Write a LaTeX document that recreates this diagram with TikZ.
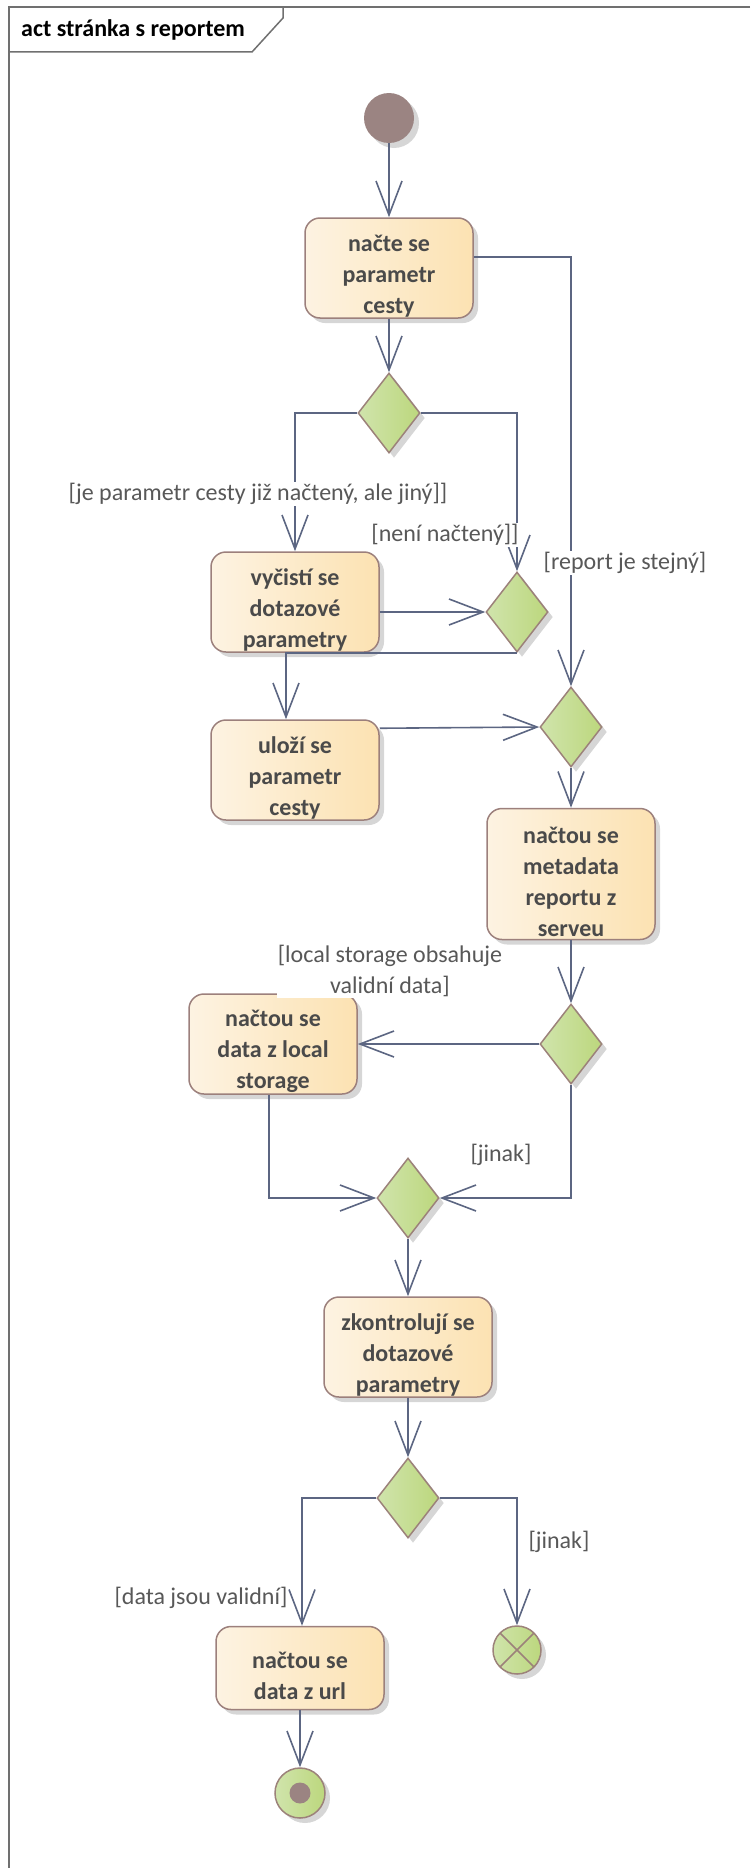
\documentclass[tikz,border=0pt]{standalone}
\usepackage{fontspec}
\setmainfont{Carlito}
\usepackage{tikz}
\usetikzlibrary{arrows.meta,shapes.geometric,shadows}
\definecolor{flowline}{RGB}{92,102,130}
\definecolor{actleft}{RGB}{253,243,226}
\definecolor{actright}{RGB}{252,226,178}
\definecolor{actborder}{RGB}{156,128,124}
\definecolor{acttext}{RGB}{74,74,74}
\definecolor{decleft}{RGB}{208,228,172}
\definecolor{decright}{RGB}{188,215,125}
\definecolor{decborder}{RGB}{156,130,122}
\definecolor{initfill}{RGB}{155,132,130}
\definecolor{guardtext}{RGB}{88,88,88}
\definecolor{framegray}{RGB}{112,112,112}
\definecolor{shadowgray}{RGB}{214,214,214}
\newcommand{\actgap}{\rule{0pt}{32pt}}

\begin{document}
\begin{tikzpicture}[x=1pt,y=-1pt,>={Straight Barb[length=34pt,width=26pt]},
	flow/.style={->,draw=flowline,line width=1.6pt},
	boxshadow/.style={drop shadow={shadow xshift=5pt,shadow yshift=-5pt,fill=shadowgray,opacity=1}},
	act node/.style={rectangle,rounded corners=15pt,draw=actborder,line width=1.5pt,left color=actleft,right color=actright,minimum width=168pt,minimum height=100pt,inner sep=0pt,align=center,text=acttext,font=\fontsize{24}{31}\selectfont\bfseries,boxshadow},
	dec node/.style={diamond,draw=decborder,line width=1.5pt,left color=decleft,right color=decright,minimum width=62pt,minimum height=80pt,inner sep=0pt,boxshadow},
	init node/.style={circle,fill=initfill,minimum size=50pt,inner sep=0pt,boxshadow},
	stop node/.style={circle,draw=decborder,line width=1.5pt,left color=decleft,right color=decright,minimum size=48pt,inner sep=0pt,boxshadow,
		path picture={\draw[decborder,line width=1.5pt] (path picture bounding box.north west) -- (path picture bounding box.south east) (path picture bounding box.north east) -- (path picture bounding box.south west);}},
	end node/.style={circle,draw=decborder,line width=1.5pt,left color=decleft,right color=decright,minimum size=50pt,inner sep=0pt,boxshadow,
		path picture={\fill[initfill] (path picture bounding box.center) circle (10.5pt);}},
	guard/.style={fill=white,inner sep=1pt,align=center,text=guardtext,font=\fontsize{24}{31}\selectfont},
	title/.style={anchor=base west,inner sep=0pt,font=\fontsize{24}{31}\selectfont\bfseries}]
	\useasboundingbox (0,0) rectangle (750,1868);
	\draw[framegray,line width=1.5pt] (750,7) -- (9,7) -- (9,1868);
	\draw[framegray,line width=1.5pt] (9,52) -- (252,52) -- (283,18) -- (283,7);
	\node[title] (heading) at (21,37) {act stránka s reportem};
	\draw
		(389,118) node[init node] (start) {}
		(389,268) node[act node] (load) {\actgap načte se\\parametr\\cesty}
		(389,413) node[dec node] (pathcheck) {}
		(295,602) node[act node] (clear) {\actgap vyčistí se\\dotazové\\parametry}
		(517,612) node[dec node] (pathmerge) {}
		(295,770) node[act node] (store) {\actgap uloží se\\parametr\\cesty}
		(571,727) node[dec node] (reportmerge) {}
		(571,874) node[act node,minimum height=131pt] (meta) {\actgap načtou se\\metadata\\reportu z\\serveu}
		(571,1044) node[dec node] (cachecheck) {}
		(273,1044) node[act node] (cache) {\actgap načtou se\\data z local\\storage}
		(408,1198) node[dec node] (datamerge) {}
		(408,1347) node[act node] (validate) {\actgap zkontrolují se\\dotazové\\parametry}
		(408,1498) node[dec node] (validcheck) {}
		(300,1668) node[act node,minimum height=83pt] (urldata) {\actgap načtou se\\data z url}
		(517,1650) node[stop node] (flowend) {}
		(300,1793) node[end node] (finish) {};
	\draw[flow] (start) to (load);
	\draw[flow] (load) to (pathcheck);
	\draw[flow] (pathcheck.west) -| (clear.north);
	\draw[flow] (pathcheck.east) -| (pathmerge.north);
	\draw[flow] ([yshift=11pt]load.east) -| (reportmerge.north);
	\draw[flow] ([yshift=-10pt]clear.east) -- (pathmerge.west);
	\draw[flow] (pathmerge.south) -| ([xshift=-9pt]store.north);
	\draw[flow] ([yshift=-9pt]store.north east) -- (reportmerge.west);
	\draw[flow] (reportmerge) to (meta);
	\draw[flow] (meta) to (cachecheck);
	\draw[flow] (cachecheck) to (cache);
	\draw[flow] ([xshift=-4pt]cache.south) |- (datamerge.west);
	\draw[flow] (cachecheck.south) |- (datamerge.east);
	\draw[flow] (datamerge) to (validate);
	\draw[flow] (validate) to (validcheck);
	\draw[flow] (validcheck.west) -| ([xshift=2pt]urldata.north);
	\draw[flow] (validcheck.east) -| (flowend.north);
	\draw[flow] (urldata) to (finish);
	\draw
		(258,494) node[guard] (g1) {[je parametr cesty již načtený, ale jiný]]}
		(445,535) node[guard] (g2) {[není načtený]]}
		(625,563) node[guard] (g3) {[report je stejný]}
		(390,971) node[guard] (g4) {[local storage obsahuje\\validní data]}
		(501,1155) node[guard] (g5) {[jinak]}
		(201,1598) node[guard] (g6) {[data jsou validní]}
		(559,1542) node[guard] (g7) {[jinak]};
\end{tikzpicture}
\end{document}
